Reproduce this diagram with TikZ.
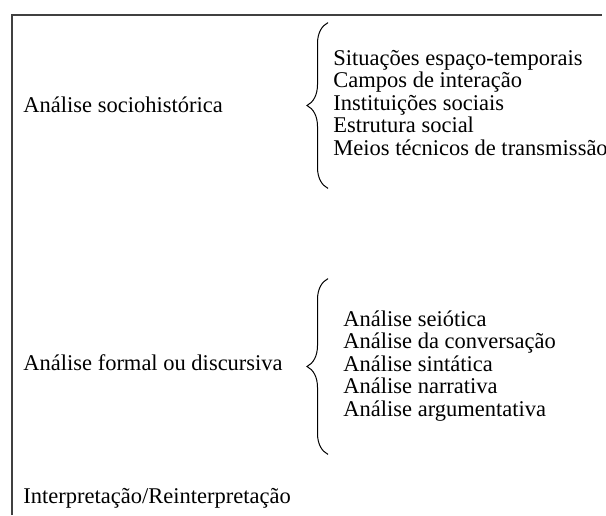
\documentclass[tikz,border=0pt]{standalone}
\usepackage{fontspec}
\setmainfont{Liberation Serif}
\usetikzlibrary{decorations.pathreplacing}
\tikzset{head/.style={anchor=base west,inner sep=0,font=\fontsize{11.25}{11.25}\selectfont},items/.style={anchor=west,align=left,inner xsep=0,inner ysep=0,font=\fontsize{11.25}{11.25}\selectfont},brc/.style={decorate,decoration={brace,amplitude=10.5pt,raise=#1},line width=.5pt},frame/.style={line width=1pt,black!75}}
\begin{document}
\begin{tikzpicture}[x=.5pt,y=-.5pt]
\useasboundingbox (0,0) rectangle (606,515);
\draw[frame] (12,515) |- (602,15);
\node[head] (soc) at (23,112) {Análise sociohistórica};\node[head] (formal) at (23,370) {Análise formal ou discursiva};\node[head] (interp) at (23,503) {Interpretação/Reinterpretação};
\node[items,minimum height=82.5pt] (soclist) at (333,105.5) {\strut Situações espaço-temporais\\Campos de interação\\Instituições sociais\\Estrutura social\\Meios técnicos de transmissão\strut};
\node[items,minimum height=87.5pt] (formlist) at (343,366.5) {\strut Análise seiótica\\Análise da conversação\\Análise sintática\\Análise narrativa\\Análise argumentativa\strut};
\draw[brc=2.5pt] (soclist.south west) -- (soclist.north west);\draw[brc=7.5pt] (formlist.south west) -- (formlist.north west);
\end{tikzpicture}
\end{document}
